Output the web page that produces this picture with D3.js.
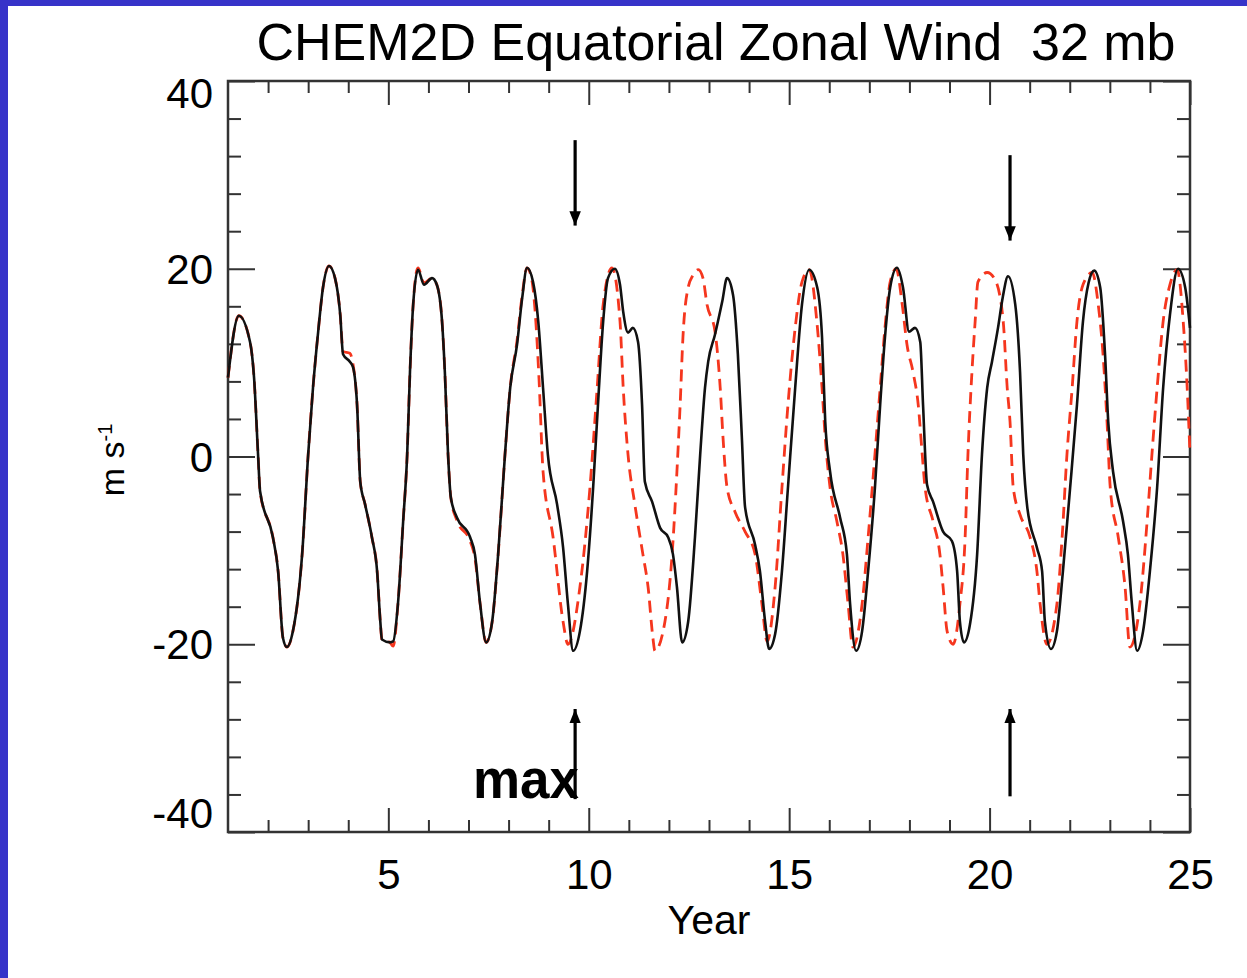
<!DOCTYPE html>
<html>
<head>
<meta charset="utf-8">
<script src="https://cdn.jsdelivr.net/npm/d3@7"></script>
<style>
body { margin: 0; background: #fff; }
text { font-family: "Liberation Sans", Arial, Helvetica, sans-serif; }
</style>
</head>
<body>
<script>
// CHEM2D run (solid black)
var blackYear = [1.0, 1.27, 1.55, 1.65, 1.75, 1.80, 2.12, 2.25, 2.37, 2.47, 2.62, 2.85, 3.0, 3.12, 3.25, 3.37, 3.52, 3.67, 3.8, 3.87, 4.04, 4.12, 4.22, 4.3, 4.42, 4.59, 4.72, 4.8, 4.84, 5.04, 5.12, 5.24, 5.37, 5.47, 5.54, 5.62, 5.74, 5.89, 6.09, 6.21, 6.34, 6.41, 6.49, 6.56, 6.71, 7.04, 7.16, 7.29, 7.44, 7.59, 7.74, 7.91, 8.04, 8.21, 8.34, 8.46, 8.61, 8.74, 8.86, 8.98, 9.21, 9.36, 9.48, 9.61, 9.78, 9.96, 10.11, 10.23, 10.36, 10.48, 10.65, 10.78, 10.86, 10.98, 11.1, 11.23, 11.33, 11.4, 11.58, 11.78, 11.98, 12.1, 12.2, 12.33, 12.48, 12.65, 12.78, 12.9, 12.98, 13.15, 13.33, 13.45, 13.6, 13.72, 13.82, 13.9, 14.15, 14.27, 14.4, 14.5, 14.65, 14.82, 14.97, 15.15, 15.32, 15.5, 15.7, 15.82, 15.9, 16.02, 16.27, 16.44, 16.52, 16.67, 16.82, 16.97, 17.14, 17.27, 17.39, 17.52, 17.69, 17.84, 17.99, 18.14, 18.27, 18.34, 18.44, 18.59, 18.84, 19.06, 19.19, 19.26, 19.36, 19.51, 19.69, 19.81, 19.94, 20.06, 20.21, 20.33, 20.46, 20.64, 20.76, 20.84, 20.94, 21.18, 21.31, 21.38, 21.53, 21.68, 21.83, 22.01, 22.18, 22.33, 22.47, 22.61, 22.76, 22.88, 22.96, 23.08, 23.33, 23.45, 23.55, 23.68, 23.83, 24.0, 24.18, 24.33, 24.5, 24.7, 24.88, 25.0];
var blackWind = [8.4, 15, 12.2, 8.4, 0.2, -3.7, -8.6, -12.2, -19.3, -20.3, -18.6, -10.4, 0.2, 7.3, 13.3, 18, 20.3, 19, 15.1, 10.9, 10.1, 9.5, 5.5, -2.7, -5.1, -8.6, -12.2, -17.6, -19.5, -19.8, -19.7, -15.7, -6.9, 0.2, 9, 16.2, 19.9, 18.3, 19, 18.3, 14.4, 9, 0.2, -4.4, -6.5, -8.6, -10.4, -15.7, -19.8, -17.6, -10.4, 0.2, 7.3, 11.9, 16.9, 20.1, 18.6, 14.4, 7.3, 0.2, -5.1, -9.7, -15.7, -20.7, -18.6, -12.2, -3.3, 5.5, 14.4, 19, 20, 18.3, 15.4, 13.2, 13.7, 12.2, 5.5, -2.7, -4.8, -7.6, -8.6, -10.4, -13.9, -19.8, -17.6, -8.6, 0.2, 7.3, 10.1, 13, 16.5, 19, 17.2, 10.9, 2, -5.4, -9.4, -12.2, -17.6, -20.5, -18.9, -12.2, -3.3, 7.3, 16.2, 19.9, 18, 12.7, 3.7, -1.6, -6.5, -10.4, -15.7, -20.7, -18.6, -12.2, -3.3, 5.5, 12.7, 18, 20.1, 18, 13.3, 13.7, 12.2, 5.5, -3, -4.8, -8, -9, -12.2, -17.6, -19.8, -17.9, -10.4, 0.2, 7.3, 10.1, 13.7, 17, 19.2, 16.2, 9, 0.2, -5.4, -9.7, -12.2, -17.6, -20.5, -18.6, -12.2, -3.3, 5.5, 14.4, 18.5, 19.8, 18, 10.9, 3.7, -1.6, -6.9, -10.4, -15.7, -20.7, -18.6, -12.2, -3.3, 7.3, 15.1, 20, 18, 13.7];

// comparison run (red dashed)
var redYear = [1.0, 1.27, 1.55, 1.65, 1.75, 1.80, 2.12, 2.25, 2.37, 2.47, 2.62, 2.85, 3.0, 3.12, 3.25, 3.37, 3.52, 3.67, 3.8, 3.87, 4.04, 4.12, 4.22, 4.3, 4.42, 4.59, 4.72, 4.8, 4.84, 5.04, 5.12, 5.24, 5.37, 5.47, 5.54, 5.62, 5.74, 5.89, 6.09, 6.21, 6.34, 6.41, 6.49, 6.56, 6.71, 7.04, 7.16, 7.29, 7.44, 7.59, 7.74, 7.91, 8.04, 8.21, 8.34, 8.46, 8.58, 8.66, 8.76, 8.86, 9.11, 9.36, 9.48, 9.78, 10.03, 10.21, 10.36, 10.58, 10.78, 10.86, 10.98, 11.15, 11.35, 11.48, 11.6, 11.65, 11.9, 12.08, 12.2, 12.28, 12.35, 12.48, 12.6, 12.73, 12.85, 12.95, 13.15, 13.28, 13.35, 13.45, 13.65, 13.9, 14.15, 14.32, 14.45, 14.65, 14.82, 14.97, 15.15, 15.32, 15.5, 15.69, 15.82, 15.9, 16.02, 16.19, 16.34, 16.47, 16.59, 16.82, 16.97, 17.14, 17.27, 17.39, 17.52, 17.67, 17.82, 17.94, 18.09, 18.22, 18.32, 18.39, 18.59, 18.76, 18.84, 18.94, 19.09, 19.26, 19.39, 19.46, 19.56, 19.64, 19.71, 19.94, 20.14, 20.34, 20.44, 20.51, 20.59, 20.76, 21.01, 21.18, 21.26, 21.43, 21.68, 21.81, 21.93, 22.06, 22.18, 22.33, 22.56, 22.71, 22.83, 22.93, 23.01, 23.21, 23.38, 23.5, 23.75, 23.93, 24.05, 24.18, 24.33, 24.5, 24.68, 24.83, 24.93, 25.0];
var redWind = [8.4, 15, 12.2, 8.4, 0.2, -3.7, -8.6, -12.2, -19.3, -20.3, -18.6, -10.4, 0.2, 7.3, 13.3, 18, 20.3, 19, 15.1, 11.2, 11, 9.8, 5.5, -2.7, -5.1, -8.6, -12.2, -17.6, -19.5, -19.8, -20.2, -15.7, -6.9, 0.2, 9, 16.2, 20.1, 18.5, 19, 18.3, 14.4, 9, 0.2, -4.4, -6.8, -9, -10.8, -15.7, -19.8, -17.6, -10.4, 0.2, 7.3, 12.3, 17.2, 20.1, 18.8, 15.6, 8.2, -1.6, -8.6, -17.6, -20, -13.9, -3.3, 7.3, 16.2, 20.1, 14.4, 7.3, 0.2, -5.1, -10.4, -13.9, -19.3, -20.7, -17.6, -10.4, -1.6, 5.5, 12.7, 18, 19.3, 19.9, 19, 16.2, 13.3, 7.3, 2, -3.3, -5.9, -8, -10.4, -15.7, -19.7, -13.9, -3.3, 5.5, 13.7, 18.6, 19.9, 14.4, 7.3, 2, -3.3, -6.9, -10.4, -15.7, -20.3, -15.7, -8.6, 0.2, 7.3, 13.7, 18.6, 20, 16.2, 11.9, 9, 5.5, 0.2, -3.3, -6.9, -10.4, -13.9, -18.6, -20, -15.7, -8.6, 0.2, 9, 14.4, 18.6, 19.6, 18.8, 14.4, 7.3, 3.7, -3.3, -6.2, -8.6, -12.2, -15.7, -20, -15.7, -8.6, 0.2, 7.3, 14.4, 18.3, 19.6, 16.2, 10.9, 3.7, -3.3, -8.6, -13.9, -20.3, -15.7, -6.9, 0.2, 7.3, 14.4, 18.3, 19.9, 14.4, 7.3, 0.2];

var xMajor = [5, 10, 15, 20, 25];
var xMinor = [2, 3, 4, 6, 7, 8, 9, 11, 12, 13, 14, 16, 17, 18, 19, 21, 22, 23, 24];
var yMajor = [-40, -20, 0, 20, 40];
var yMinor = [-36, -32, -28, -24, -16, -12, -8, -4, 4, 8, 12, 16, 24, 28, 32, 36];

// arrows: [year, start value, tip value]
var arrowYear = [9.66, 20.51, 9.66, 20.51];
var arrowFrom = [33.7, 32.1, -36.5, -36.2];
var arrowTo = [24.6, 23.0, -26.9, -26.9];

const W = 1247, H = 978;
const plotLeft = 228, plotRight = 1190, plotTop = 81, plotBottom = 832;

const svg = d3.select("body")
  .append("svg")
  .attr("width", W)
  .attr("height", H);

svg.append("rect").attr("width", W).attr("height", H).attr("fill", "#fff");
// blue slide border
svg.append("rect").attr("x", 0).attr("y", 0).attr("width", 8).attr("height", H).attr("fill", "#3733c9");
svg.append("rect").attr("x", 0).attr("y", 0).attr("width", W).attr("height", 6).attr("fill", "#3733c9");

const x = d3.scaleLinear().domain([1, 25]).range([plotLeft, plotRight]);
const y = d3.scaleLinear().domain([-40, 40]).range([plotBottom, plotTop]);

const axisColor = "#333";
// plain hyphen for negatives, like the original IDL plot
const plainFmt = function(d) { return String(d); };

function styleAxis(g) {
  g.select(".domain").remove();
  g.selectAll("line").attr("stroke", axisColor).attr("stroke-width", 2);
  g.selectAll("text").attr("fill", "#000").style("font-size", "42px");
}

// left & right axes, ticks pointing inward
svg.append("g").attr("transform", "translate(" + plotLeft + ",0)")
  .call(d3.axisLeft(y).tickValues(yMinor).tickSize(-13).tickFormat(""))
  .call(styleAxis);
const yl = svg.append("g").attr("transform", "translate(" + plotLeft + ",0)")
  .call(d3.axisLeft(y).tickValues(yMajor).tickSize(-27).tickPadding(15).tickFormat(plainFmt))
  .call(styleAxis);
yl.selectAll("text")
  .attr("dy", function(d) { return d === 40 ? "0.62em" : d === -40 ? "-0.1em" : "0.35em"; });

svg.append("g").attr("transform", "translate(" + plotRight + ",0)")
  .call(d3.axisRight(y).tickValues(yMinor).tickSize(-13).tickFormat(""))
  .call(styleAxis);
svg.append("g").attr("transform", "translate(" + plotRight + ",0)")
  .call(d3.axisRight(y).tickValues(yMajor).tickSize(-27).tickFormat(""))
  .call(styleAxis);

// bottom & top axes
svg.append("g").attr("transform", "translate(0," + plotBottom + ")")
  .call(d3.axisBottom(x).tickValues(xMinor).tickSize(-12).tickFormat(""))
  .call(styleAxis);
svg.append("g").attr("transform", "translate(0," + plotBottom + ")")
  .call(d3.axisBottom(x).tickValues(xMajor).tickSize(-24).tickPadding(27).tickFormat(plainFmt))
  .call(styleAxis);
svg.append("g").attr("transform", "translate(0," + plotTop + ")")
  .call(d3.axisTop(x).tickValues(xMinor).tickSize(-12).tickFormat(""))
  .call(styleAxis);
svg.append("g").attr("transform", "translate(0," + plotTop + ")")
  .call(d3.axisTop(x).tickValues(xMajor).tickSize(-24).tickFormat(""))
  .call(styleAxis);

// frame
svg.append("rect")
  .attr("x", plotLeft).attr("y", plotTop)
  .attr("width", plotRight - plotLeft).attr("height", plotBottom - plotTop)
  .attr("fill", "none").attr("stroke", axisColor).attr("stroke-width", 2.5);

const line = d3.line()
  .x(function(d) { return x(d[0]); })
  .y(function(d) { return y(d[1]); })
  .curve(d3.curveMonotoneX);

svg.append("path")
  .datum(d3.zip(redYear, redWind))
  .attr("d", line)
  .attr("fill", "none")
  .attr("stroke", "#f5361e")
  .attr("stroke-width", 2.8)
  .attr("stroke-dasharray", "12,7");

svg.append("path")
  .datum(d3.zip(blackYear, blackWind))
  .attr("d", line)
  .attr("fill", "none")
  .attr("stroke", "#111")
  .attr("stroke-width", 2.6);

// titles
svg.append("text")
  .attr("x", 716).attr("y", 60)
  .attr("text-anchor", "middle")
  .style("font-size", "52px")
  .attr("fill", "#000")
  .text("CHEM2D Equatorial Zonal Wind\u00a0\u00a032 mb");

svg.append("text")
  .attr("x", 709).attr("y", 934)
  .attr("text-anchor", "middle")
  .style("font-size", "41px")
  .attr("fill", "#000")
  .text("Year");

const ylab = svg.append("text")
  .attr("transform", "translate(124,460) rotate(-90)")
  .attr("text-anchor", "middle")
  .style("font-size", "34px")
  .attr("fill", "#000");
ylab.append("tspan").text("m s");
ylab.append("tspan").attr("dy", "-12").style("font-size", "20px").text("-1");

// arrows
svg.append("defs").append("marker")
  .attr("id", "head")
  .attr("viewBox", "0 0 10 10")
  .attr("refX", 10).attr("refY", 5)
  .attr("markerWidth", 4.5).attr("markerHeight", 4.5)
  .attr("markerUnits", "strokeWidth")
  .attr("orient", "auto")
  .append("path")
  .attr("d", "M0,1 L10,5 L0,9 Z")
  .attr("fill", "#000");

svg.selectAll(".arrow")
  .data(d3.range(arrowYear.length))
  .enter()
  .append("line")
  .attr("class", "arrow")
  .attr("x1", function(i) { return x(arrowYear[i]); })
  .attr("x2", function(i) { return x(arrowYear[i]); })
  .attr("y1", function(i) { return y(arrowFrom[i]); })
  .attr("y2", function(i) { return y(arrowTo[i]); })
  .attr("stroke", "#000")
  .attr("stroke-width", 3.2)
  .attr("marker-end", "url(#head)");

svg.append("text")
  .attr("x", 473).attr("y", 798)
  .style("font-size", "56px")
  .style("font-weight", "bold")
  .attr("textLength", 106)
  .attr("lengthAdjust", "spacingAndGlyphs")
  .attr("fill", "#000")
  .text("max");
</script>
</body>
</html>
